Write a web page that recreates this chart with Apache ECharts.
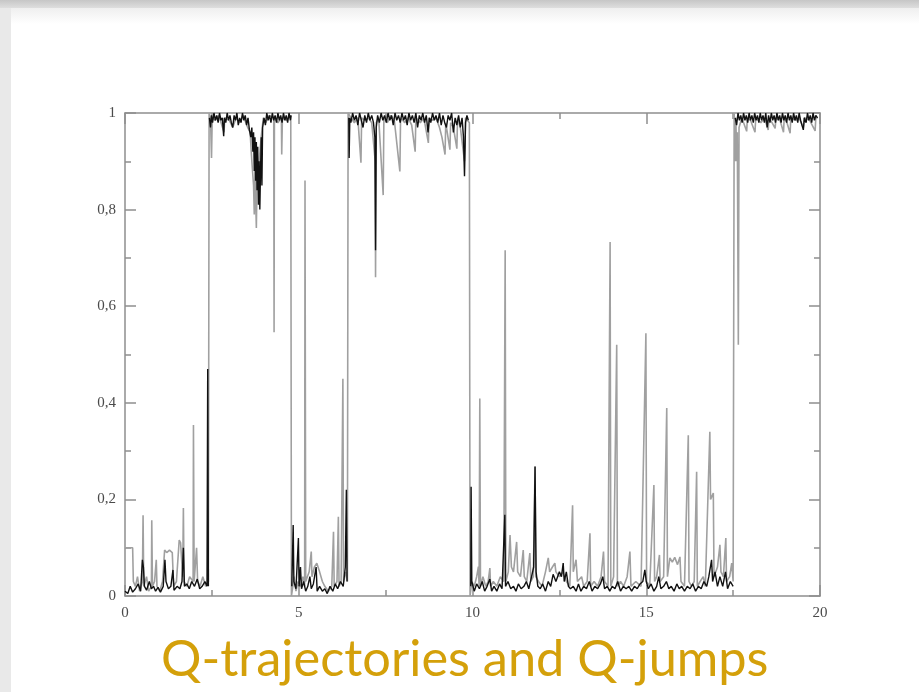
<!DOCTYPE html>
<html>
<head>
<meta charset="utf-8">
<title>Q-trajectories and Q-jumps</title>
<script src="https://cdn.jsdelivr.net/npm/echarts@6/dist/echarts.min.js"></script>
<style>
	html, body { margin: 0; padding: 0; background: #fff; }
	#main { width: 919px; height: 692px; filter: blur(0.6px); }
</style>
</head>
<body>
<div id="main"></div>
<script>
	// 轴刻度
	var xTicks = [0, 5, 10, 15, 20];
	var yTicks = [0, 0.2, 0.4, 0.6, 0.8, 1];
	var titleText = "Q-trajectories and Q-jumps";

	// 灰色轨迹 (t, Q), 按状态分段
	var grayLow1 = [[0, 0.10], [0.22, 0.10], [0.24, 0.03], [0.3, 0.02], [0.36, 0.04], [0.42, 0.01], [0.5, 0.03], [0.52, 0.167], [0.54, 0.02], [0.62, 0.04], [0.68, 0.01], [0.76, 0.02], [0.77, 0.157], [0.79, 0.02], [0.85, 0.03], [0.90, 0.075], [0.92, 0.02], [1.0, 0.01], [1.08, 0.03], [1.14, 0.095], [1.2, 0.09], [1.28, 0.095], [1.36, 0.09], [1.40, 0.02], [1.48, 0.03], [1.56, 0.116], [1.6, 0.11], [1.66, 0.04], [1.68, 0.182], [1.70, 0.03], [1.78, 0.02], [1.86, 0.04], [1.96, 0.03], [1.97, 0.354], [1.99, 0.03], [2.06, 0.10], [2.09, 0.03], [2.16, 0.02], [2.24, 0.04], [2.32, 0.02], [2.40, 0.03]];
	var grayHigh1 = [[2.42, 1.0], [2.46, 0.99], [2.49, 0.907], [2.51, 0.99], [2.6, 0.985], [2.7, 0.995], [2.85, 0.96], [2.87, 0.99], [3.0, 0.985], [3.1, 0.97], [3.2, 0.99], [3.3, 0.98], [3.4, 0.995], [3.5, 0.975], [3.6, 0.96], [3.65, 0.9], [3.7, 0.85], [3.72, 0.79], [3.74, 0.88], [3.78, 0.762], [3.8, 0.86], [3.86, 0.9], [3.92, 0.95], [3.98, 0.99], [4.05, 0.98], [4.15, 0.995], [4.28, 0.99], [4.29, 0.546], [4.30, 0.99], [4.4, 0.98], [4.5, 0.99], [4.51, 0.914], [4.53, 0.99], [4.65, 0.985], [4.77, 0.995]];
	var grayLow2 = [[4.79, 0.0], [4.83, 0.02], [4.86, 0.04], [4.92, 0.01], [4.98, 0.03], [5.05, 0.02], [5.12, 0.04], [5.17, 0.02], [5.18, 0.86], [5.20, 0.03], [5.3, 0.05], [5.36, 0.092], [5.38, 0.04], [5.45, 0.06], [5.52, 0.068], [5.6, 0.05], [5.68, 0.03], [5.75, 0.02], [5.85, 0.01], [5.95, 0.02], [6.0, 0.133], [6.02, 0.02], [6.1, 0.03], [6.14, 0.164], [6.16, 0.02], [6.22, 0.03], [6.27, 0.45], [6.29, 0.03], [6.36, 0.05], [6.40, 0.03]];
	var grayHigh2 = [[6.42, 1.0], [6.5, 0.99], [6.6, 0.98], [6.7, 0.99], [6.79, 0.897], [6.81, 0.99], [6.9, 0.985], [7.0, 0.99], [7.1, 0.98], [7.2, 0.9], [7.21, 0.66], [7.23, 0.98], [7.3, 0.99], [7.43, 0.83], [7.45, 0.99], [7.55, 0.98], [7.65, 0.995], [7.75, 0.985], [7.91, 0.879], [7.93, 0.99], [8.05, 0.98], [8.15, 0.99], [8.25, 0.975], [8.35, 0.92], [8.37, 0.99], [8.5, 0.98], [8.6, 0.99], [8.73, 0.938], [8.75, 0.99], [8.85, 0.985], [8.95, 0.99], [9.05, 0.97], [9.12, 0.95], [9.21, 0.914], [9.23, 0.98], [9.35, 0.924], [9.37, 0.98], [9.45, 0.97], [9.55, 0.926], [9.57, 0.99], [9.65, 0.97], [9.77, 0.9], [9.8, 0.99], [9.91, 0.98]];
	var grayLow3 = [[9.93, 0.0], [9.98, 0.03], [10.05, 0.02], [10.12, 0.04], [10.17, 0.061], [10.19, 0.02], [10.21, 0.409], [10.23, 0.02], [10.3, 0.04], [10.38, 0.02], [10.45, 0.03], [10.5, 0.058], [10.52, 0.02], [10.6, 0.03], [10.7, 0.02], [10.8, 0.04], [10.9, 0.03], [10.94, 0.716], [10.96, 0.03], [11.03, 0.05], [11.08, 0.126], [11.12, 0.06], [11.18, 0.05], [11.27, 0.112], [11.3, 0.05], [11.38, 0.04], [11.46, 0.095], [11.49, 0.04], [11.56, 0.03], [11.65, 0.089], [11.68, 0.03], [11.75, 0.04], [11.8, 0.268], [11.82, 0.04], [11.9, 0.03], [12.0, 0.02], [12.1, 0.05], [12.18, 0.079], [12.22, 0.05], [12.3, 0.06], [12.37, 0.068], [12.4, 0.05], [12.5, 0.04], [12.6, 0.05], [12.7, 0.03], [12.8, 0.02], [12.88, 0.188], [12.9, 0.05], [12.98, 0.075], [13.02, 0.03], [13.14, 0.04], [13.2, 0.02], [13.3, 0.03], [13.38, 0.13], [13.4, 0.02], [13.5, 0.03], [13.6, 0.02], [13.7, 0.04], [13.77, 0.092], [13.8, 0.03], [13.9, 0.02], [13.96, 0.733], [13.98, 0.02], [14.06, 0.04], [14.15, 0.52], [14.17, 0.02], [14.26, 0.03], [14.35, 0.02], [14.45, 0.04], [14.53, 0.092], [14.56, 0.02], [14.7, 0.03], [14.85, 0.02], [14.99, 0.544], [15.01, 0.03], [15.1, 0.02], [15.22, 0.23], [15.24, 0.03], [15.3, 0.04], [15.38, 0.085], [15.4, 0.03], [15.5, 0.04], [15.59, 0.389], [15.61, 0.04], [15.68, 0.079], [15.75, 0.07], [15.82, 0.08], [15.9, 0.065], [15.97, 0.081], [16.0, 0.03], [16.1, 0.02], [16.21, 0.333], [16.23, 0.03], [16.3, 0.02], [16.38, 0.03], [16.45, 0.257], [16.47, 0.02], [16.55, 0.03], [16.64, 0.04], [16.7, 0.02], [16.83, 0.34], [16.85, 0.2], [16.93, 0.213], [16.95, 0.04], [17.05, 0.06], [17.12, 0.106], [17.15, 0.05], [17.22, 0.04], [17.29, 0.12], [17.31, 0.03], [17.4, 0.04], [17.46, 0.068], [17.5, 0.03]];
	var grayHigh3 = [[17.53, 1.0], [17.56, 0.9], [17.58, 0.99], [17.6, 0.9], [17.62, 0.96], [17.65, 0.52], [17.67, 0.97], [17.75, 0.99], [17.89, 0.962], [17.91, 0.99], [18.0, 0.985], [18.13, 0.96], [18.15, 0.99], [18.3, 0.98], [18.4, 0.99], [18.51, 0.965], [18.53, 0.99], [18.62, 0.98], [18.71, 0.968], [18.73, 0.99], [18.85, 0.985], [18.95, 0.96], [18.97, 0.99], [19.05, 0.98], [19.14, 0.958], [19.16, 0.99], [19.3, 0.985], [19.4, 0.99], [19.52, 0.97], [19.55, 0.99], [19.7, 0.985], [19.86, 0.963], [19.88, 0.99], [19.93, 0.99]];

	// 黑色轨迹 (t, Q), 每个状态一段
	var blackLow1 = [[0, 0.01], [0.08, 0.005], [0.15, 0.02], [0.22, 0.008], [0.3, 0.015], [0.38, 0.025], [0.45, 0.01], [0.5, 0.075], [0.53, 0.06], [0.56, 0.02], [0.62, 0.012], [0.7, 0.03], [0.76, 0.015], [0.82, 0.02], [0.88, 0.01], [0.95, 0.018], [1.02, 0.008], [1.1, 0.02], [1.15, 0.075], [1.18, 0.03], [1.25, 0.015], [1.32, 0.02], [1.38, 0.054], [1.41, 0.012], [1.5, 0.02], [1.58, 0.015], [1.64, 0.03], [1.68, 0.10], [1.71, 0.02], [1.78, 0.025], [1.85, 0.015], [1.92, 0.03], [2.0, 0.02], [2.08, 0.035], [2.15, 0.015], [2.22, 0.02], [2.3, 0.03], [2.36, 0.02], [2.38, 0.47], [2.40, 0.02]];
	var blackHigh1 = [[2.43, 0.99], [2.46, 0.97], [2.49, 0.995], [2.52, 0.98], [2.56, 1.0], [2.6, 0.985], [2.64, 0.995], [2.68, 0.98], [2.72, 1.0], [2.76, 0.985], [2.8, 0.99], [2.84, 0.952], [2.86, 0.99], [2.9, 0.98], [2.94, 1.0], [2.98, 0.985], [3.02, 0.995], [3.06, 0.98], [3.1, 0.97], [3.14, 0.995], [3.18, 0.985], [3.22, 1.0], [3.26, 0.975], [3.3, 0.99], [3.34, 0.98], [3.38, 1.0], [3.42, 0.985], [3.46, 0.995], [3.5, 0.975], [3.54, 0.99], [3.58, 0.965], [3.62, 0.95], [3.65, 0.97], [3.68, 0.92], [3.7, 0.96], [3.72, 0.88], [3.74, 0.95], [3.76, 0.86], [3.78, 0.94], [3.8, 0.84], [3.82, 0.93], [3.84, 0.81], [3.86, 0.9], [3.88, 0.80], [3.9, 0.88], [3.92, 0.95], [3.94, 0.85], [3.96, 0.97], [4.0, 0.99], [4.04, 0.975], [4.08, 1.0], [4.12, 0.985], [4.16, 0.995], [4.2, 0.98], [4.24, 1.0], [4.28, 0.985], [4.32, 0.995], [4.36, 0.98], [4.4, 1.0], [4.44, 0.985], [4.48, 0.995], [4.52, 0.98], [4.56, 1.0], [4.6, 0.985], [4.64, 0.995], [4.68, 0.98], [4.72, 1.0], [4.76, 0.985], [4.78, 0.995]];
	var blackLow2 = [[4.80, 0.02], [4.84, 0.147], [4.86, 0.03], [4.92, 0.015], [4.99, 0.12], [5.01, 0.02], [5.05, 0.06], [5.08, 0.015], [5.14, 0.03], [5.2, 0.01], [5.26, 0.02], [5.32, 0.04], [5.36, 0.015], [5.42, 0.025], [5.5, 0.06], [5.53, 0.01], [5.6, 0.02], [5.68, 0.01], [5.75, 0.015], [5.82, 0.005], [5.9, 0.02], [5.98, 0.01], [6.05, 0.025], [6.12, 0.015], [6.2, 0.03], [6.28, 0.02], [6.34, 0.06], [6.37, 0.22], [6.39, 0.03]];
	var blackHigh2 = [[6.44, 0.99], [6.45, 0.907], [6.47, 0.99], [6.5, 0.98], [6.55, 1.0], [6.6, 0.985], [6.65, 0.995], [6.7, 0.975], [6.75, 1.0], [6.8, 0.985], [6.85, 0.97], [6.9, 0.995], [6.95, 0.98], [7.0, 1.0], [7.05, 0.985], [7.1, 0.995], [7.15, 0.98], [7.19, 0.95], [7.21, 0.716], [7.23, 0.97], [7.27, 0.995], [7.32, 0.98], [7.37, 1.0], [7.42, 0.985], [7.47, 0.995], [7.52, 0.98], [7.57, 1.0], [7.62, 0.985], [7.67, 0.995], [7.72, 0.975], [7.77, 1.0], [7.82, 0.985], [7.87, 0.995], [7.92, 0.98], [7.97, 1.0], [8.02, 0.985], [8.07, 0.995], [8.12, 0.975], [8.17, 1.0], [8.22, 0.985], [8.27, 0.995], [8.32, 0.98], [8.37, 1.0], [8.42, 0.97], [8.47, 0.995], [8.52, 0.985], [8.57, 1.0], [8.62, 0.98], [8.67, 0.995], [8.72, 0.96], [8.76, 0.99], [8.8, 0.98], [8.85, 1.0], [8.9, 0.985], [8.95, 0.995], [9.0, 0.98], [9.05, 1.0], [9.1, 0.975], [9.15, 0.995], [9.2, 0.98], [9.25, 0.97], [9.3, 0.995], [9.35, 0.985], [9.4, 1.0], [9.45, 0.96], [9.5, 0.99], [9.55, 0.975], [9.6, 0.995], [9.65, 0.97], [9.7, 0.99], [9.74, 0.95], [9.77, 0.869], [9.8, 0.98], [9.84, 0.995], [9.88, 0.985]];
	var blackLow3 = [[9.95, 0.02], [9.96, 0.226], [9.98, 0.03], [10.05, 0.01], [10.12, 0.025], [10.2, 0.015], [10.28, 0.03], [10.35, 0.01], [10.42, 0.02], [10.5, 0.035], [10.55, 0.01], [10.62, 0.02], [10.7, 0.01], [10.78, 0.025], [10.85, 0.015], [10.93, 0.168], [10.95, 0.02], [11.02, 0.03], [11.1, 0.015], [11.18, 0.02], [11.25, 0.01], [11.32, 0.025], [11.4, 0.015], [11.48, 0.02], [11.55, 0.03], [11.62, 0.015], [11.7, 0.04], [11.76, 0.06], [11.8, 0.268], [11.83, 0.05], [11.88, 0.02], [11.95, 0.015], [12.02, 0.025], [12.1, 0.01], [12.18, 0.03], [12.25, 0.02], [12.32, 0.045], [12.4, 0.03], [12.5, 0.05], [12.56, 0.04], [12.61, 0.068], [12.64, 0.03], [12.7, 0.05], [12.76, 0.02], [12.82, 0.015], [12.9, 0.02], [12.98, 0.01], [13.05, 0.025], [13.12, 0.01], [13.2, 0.02], [13.28, 0.015], [13.36, 0.03], [13.44, 0.01], [13.52, 0.02], [13.6, 0.015], [13.68, 0.025], [13.75, 0.04], [13.8, 0.015], [13.88, 0.02], [13.95, 0.01], [14.02, 0.02], [14.1, 0.015], [14.18, 0.03], [14.26, 0.01], [14.34, 0.02], [14.42, 0.015], [14.5, 0.02], [14.58, 0.01], [14.66, 0.02], [14.74, 0.015], [14.82, 0.025], [14.9, 0.03], [14.96, 0.054], [15.0, 0.03], [15.06, 0.015], [15.14, 0.025], [15.22, 0.01], [15.3, 0.02], [15.36, 0.04], [15.42, 0.015], [15.5, 0.02], [15.58, 0.03], [15.65, 0.015], [15.72, 0.02], [15.8, 0.01], [15.88, 0.025], [15.95, 0.015], [16.02, 0.02], [16.1, 0.01], [16.18, 0.02], [16.26, 0.015], [16.34, 0.025], [16.42, 0.01], [16.5, 0.02], [16.58, 0.015], [16.66, 0.03], [16.74, 0.02], [16.8, 0.04], [16.88, 0.075], [16.91, 0.03], [16.98, 0.05], [17.05, 0.02], [17.12, 0.04], [17.2, 0.02], [17.28, 0.05], [17.34, 0.015], [17.42, 0.03], [17.5, 0.02]];
	var blackHigh3 = [[17.56, 0.99], [17.6, 0.975], [17.64, 1.0], [17.68, 0.985], [17.72, 0.995], [17.76, 0.98], [17.8, 1.0], [17.84, 0.985], [17.88, 0.995], [17.92, 0.98], [17.96, 1.0], [18.0, 0.985], [18.04, 0.995], [18.08, 0.98], [18.12, 1.0], [18.16, 0.985], [18.2, 0.995], [18.24, 0.98], [18.28, 1.0], [18.32, 0.985], [18.36, 0.995], [18.4, 0.98], [18.44, 1.0], [18.48, 0.97], [18.52, 0.995], [18.56, 0.98], [18.6, 1.0], [18.64, 0.985], [18.68, 0.995], [18.72, 0.98], [18.76, 1.0], [18.8, 0.985], [18.84, 0.995], [18.88, 0.98], [18.92, 1.0], [18.96, 0.985], [19.0, 0.995], [19.04, 0.98], [19.08, 1.0], [19.12, 0.985], [19.16, 0.995], [19.2, 0.98], [19.24, 1.0], [19.28, 0.985], [19.32, 0.995], [19.36, 0.98], [19.4, 1.0], [19.44, 0.985], [19.48, 0.975], [19.52, 0.965], [19.55, 0.99], [19.6, 0.98], [19.64, 1.0], [19.68, 0.985], [19.72, 0.995], [19.76, 0.98], [19.8, 1.0], [19.84, 0.985], [19.88, 0.995], [19.93, 0.99]];

	var grayTrace = grayLow1.concat(grayHigh1, grayLow2, grayHigh2, grayLow3, grayHigh3);
	var blackParts = [blackLow1, blackHigh1, blackLow2, blackHigh2, blackLow3, blackHigh3];

	var axisColor = '#8e8e8e';
	var labelFont = {
		fontFamily: '"Liberation Serif", "DejaVu Serif", serif',
		fontSize: 15,
		color: '#4a4a4a'
	};

	function frameAxis(pos, ticks, withLabel, fmt) {
		return {
			type: 'value',
			position: pos,
			min: ticks[0],
			max: ticks[ticks.length - 1],
			interval: ticks[1] - ticks[0],
			axisLine: { show: true, onZero: false, lineStyle: { color: axisColor, width: 1.5 } },
			axisTick: { show: true, inside: true, length: 11, lineStyle: { color: axisColor, width: 1.5 } },
			minorTick: { show: true, splitNumber: 2, length: 6, lineStyle: { color: axisColor, width: 1.5 } },
			splitLine: { show: false },
			minorSplitLine: { show: false },
			axisLabel: {
				show: withLabel,
				margin: pos === 'left' ? 9 : 10,
				fontFamily: labelFont.fontFamily,
				fontSize: labelFont.fontSize,
				color: labelFont.color,
				formatter: fmt
			}
		};
	}

	function commaFmt(v) {
		if (v === 0 || v === 1) return String(v);
		return v.toFixed(1).replace('.', ',');
	}

	var series = [{
		name: 'gray',
		type: 'line',
		data: grayTrace,
		symbol: 'none',
		lineStyle: { color: '#a0a0a0', width: 1.6 },
		z: 2
	}];
	blackParts.forEach(function(part, i) {
		series.push({
			name: 'black' + i,
			type: 'line',
			data: part,
			symbol: 'none',
			lineStyle: { color: '#111', width: 1.4 },
			z: 3
		});
	});

	var chart = echarts.init(document.getElementById('main'), null, { renderer: 'canvas' });
	chart.setOption({
		animation: false,
		backgroundColor: '#fff',
		graphic: [
			// 幻灯片边框
			{ type: 'rect', left: 0, top: 0, shape: { width: 919, height: 8 }, silent: true,
				style: { fill: new echarts.graphic.LinearGradient(0, 0, 0, 1, [{ offset: 0, color: '#c6c6c6' }, { offset: 1, color: '#dedede' }]) } },
			{ type: 'rect', left: 0, top: 8, shape: { width: 11, height: 684 }, silent: true,
				style: { fill: '#e9e9e9' } },
			{ type: 'rect', left: 11, top: 8, shape: { width: 908, height: 16 }, silent: true,
				style: { fill: new echarts.graphic.LinearGradient(0, 0, 0, 1, [{ offset: 0, color: '#efefef' }, { offset: 1, color: '#ffffff' }]) } }
		],
		title: {
			text: titleText,
			left: 161,
			top: 634,
			padding: 0,
			textStyle: {
				fontFamily: 'Lato, "Open Sans", sans-serif',
				fontWeight: 'normal',
				fontSize: 50.5,
				color: '#d4a00a'
			}
		},
		grid: { left: 125, right: 99, top: 113, bottom: 96 },
		xAxis: [
			frameAxis('bottom', xTicks, true),
			frameAxis('top', xTicks, false)
		],
		yAxis: [
			frameAxis('left', yTicks, true, commaFmt),
			frameAxis('right', yTicks, false)
		],
		series: series
	});
</script>
</body>
</html>
